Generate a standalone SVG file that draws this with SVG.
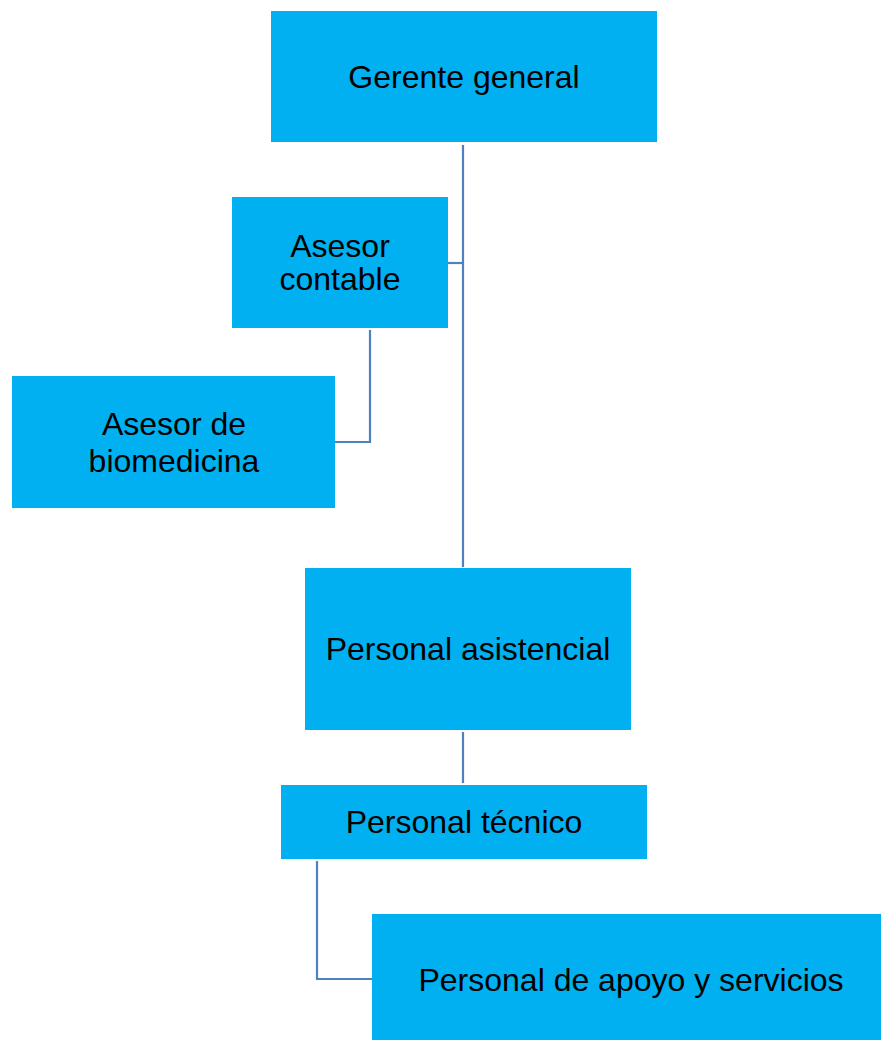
<svg xmlns="http://www.w3.org/2000/svg" width="881" height="1040" viewBox="0 0 881 1040">
<style>
.box{fill:#00B0F0}
.t{font-family:"Liberation Sans",Arial,sans-serif;font-size:32px;fill:#000;text-anchor:middle}
.c{fill:none;stroke:#4F81BD;stroke-width:2.2}
</style>
<rect width="881" height="1040" fill="#fff"/>
<g id="connectors">
<path class="c" d="M463 145 V567"/>
<path class="c" d="M448 263 H463"/>
<path class="c" d="M370 330 V442 H335"/>
<path class="c" d="M463 732 V783"/>
<path class="c" d="M317 861 V979 H372"/>
</g>
<g id="gerente"><rect class="box" x="271" y="11" width="386" height="131"/><text class="t" x="464" y="88">Gerente general</text></g>
<g id="contable"><rect class="box" x="232" y="197" width="216" height="131"/><text class="t" x="340" y="257">Asesor</text><text class="t" x="340" y="290">contable</text></g>
<g id="biomedicina"><rect class="box" x="12" y="376" width="323" height="132"/><text class="t" x="174" y="435">Asesor de</text><text class="t" x="174" y="472">biomedicina</text></g>
<g id="asistencial"><rect class="box" x="305" y="568" width="326" height="162"/><text class="t" x="468" y="660">Personal asistencial</text></g>
<g id="tecnico"><rect class="box" x="281" y="785" width="366" height="74"/><text class="t" x="464" y="833">Personal técnico</text></g>
<g id="apoyo"><rect class="box" x="372" y="914" width="509" height="126"/><text class="t" x="631" y="991">Personal de apoyo y servicios</text></g>
</svg>
